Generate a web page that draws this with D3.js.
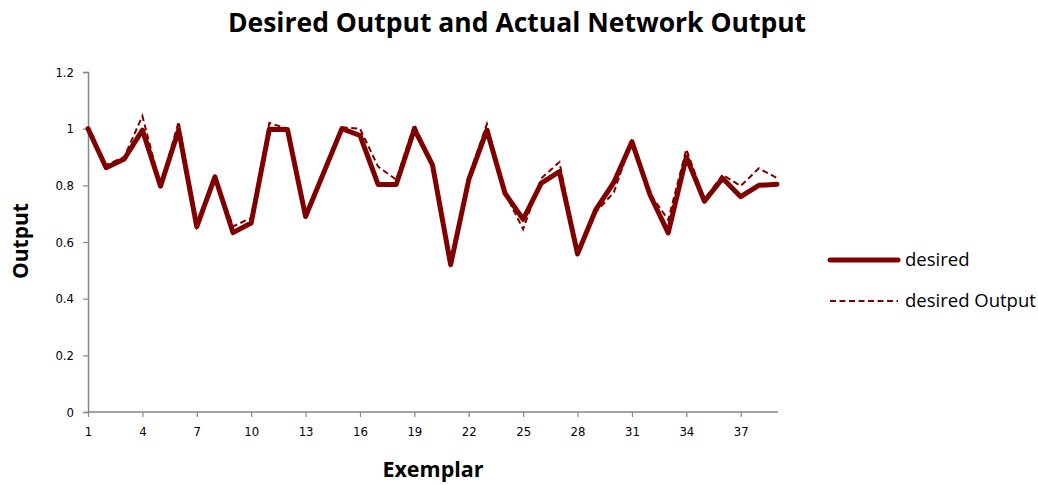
<!DOCTYPE html>
<html>
<head>
<meta charset="utf-8">
<script src="https://cdn.jsdelivr.net/npm/d3@7"></script>
<style>
  body { margin: 0; background: #fff; }
  svg { display: block; }
</style>
</head>
<body>
<svg id="chart"></svg>
<script>
// exemplar numbers 1..39
const exemplars = ["1","2","3","4","5","6","7","8","9","10","11","12","13","14","15","16","17","18","19","20",
                   "21","22","23","24","25","26","27","28","29","30","31","32","33","34","35","36","37","38","39"];

const desired = [1.0, 0.862, 0.893, 0.995, 0.797, 0.995, 0.654, 0.83, 0.633, 0.667,
                 0.998, 0.997, 0.69, 0.845, 1.0, 0.976, 0.803, 0.803, 0.998, 0.872,
                 0.52, 0.82, 0.995, 0.772, 0.68, 0.808, 0.848, 0.558, 0.713, 0.81,
                 0.954, 0.766, 0.632, 0.9, 0.744, 0.825, 0.76, 0.8, 0.804];

const networkOutput = [1.0, 0.872, 0.9, 1.045, 0.797, 1.025, 0.654, 0.83, 0.655, 0.685,
                       1.02, 1.0, 0.69, 0.845, 1.005, 1.0, 0.866, 0.82, 1.015, 0.872,
                       0.52, 0.83, 1.017, 0.772, 0.645, 0.825, 0.882, 0.558, 0.705, 0.775,
                       0.96, 0.77, 0.678, 0.927, 0.75, 0.837, 0.798, 0.86, 0.826];

const yTicks = [0, 0.2, 0.4, 0.6, 0.8, 1, 1.2];

const width = 1038, height = 485;
const margin = { top: 72, right: 261, bottom: 73, left: 88 };
const lineColor = "#800000";
const axisColor = "#868686";

const svg = d3.select("#chart")
              .attr("width", width)
              .attr("height", height);

const x = d3.scalePoint()
            .domain(exemplars)
            .range([margin.left, width - margin.right]);

const y = d3.scaleLinear()
            .domain([0, 1.2])
            .range([height - margin.bottom, margin.top]);

// Title
svg.append("text")
   .attr("x", 517)
   .attr("y", 32)
   .attr("text-anchor", "middle")
   .style("font-family", "'Open Sans', sans-serif")
   .style("font-weight", "bold")
   .style("font-size", "26.5px")
   .text("Desired Output and Actual Network Output");

// Y axis
const yAxis = svg.append("g")
   .attr("transform", `translate(${margin.left},0)`)
   .call(d3.axisLeft(y).tickValues(yTicks).tickSize(5).tickPadding(9)
           .tickFormat(d => d3.format("")(+d.toFixed(1))));

// X axis, label every 3rd exemplar
const xAxis = svg.append("g")
   .attr("transform", `translate(0,${height - margin.bottom})`)
   .call(d3.axisBottom(x).tickValues(exemplars.filter((d, i) => i % 3 === 0))
           .tickSize(5).tickPadding(10).tickSizeOuter(0));

[yAxis, xAxis].forEach(g => {
  g.select(".domain").attr("stroke", axisColor).attr("stroke-width", 1.5);
  g.selectAll(".tick line").attr("stroke", axisColor).attr("stroke-width", 1.2);
  g.selectAll(".tick text")
   .attr("fill", "#000")
   .style("font-family", "'DejaVu Sans Condensed', 'DejaVu Sans', sans-serif")
   .style("font-size", "13px");
});
// extend x axis line to the end of the plot area
xAxis.select(".domain").attr("d", `M${margin.left},0H${width - margin.right + 1}`);

// Axis titles
svg.append("text")
   .attr("transform", `translate(28,241) rotate(-90)`)
   .attr("text-anchor", "middle")
   .style("font-family", "'Open Sans', sans-serif")
   .style("font-weight", "bold")
   .style("font-size", "21px")
   .text("Output");

svg.append("text")
   .attr("x", 433)
   .attr("y", 477)
   .attr("text-anchor", "middle")
   .style("font-family", "'Open Sans', sans-serif")
   .style("font-weight", "bold")
   .style("font-size", "21.5px")
   .text("Exemplar");

// Lines
const line = d3.line()
               .x((d, i) => x(exemplars[i]))
               .y(d => y(d));

svg.append("path")
   .datum(desired)
   .attr("fill", "none")
   .attr("stroke", lineColor)
   .attr("stroke-width", 5)
   .attr("stroke-linejoin", "round")
   .attr("stroke-linecap", "round")
   .attr("d", line);

svg.append("path")
   .datum(networkOutput)
   .attr("fill", "none")
   .attr("stroke", lineColor)
   .attr("stroke-width", 2)
   .attr("stroke-dasharray", "6,3.5")
   .attr("d", line);

// Legend
const legend = svg.append("g");
const legendItems = [
  { name: "desired", width: 5, dash: null, y: 260 },
  { name: "desired Output", width: 2, dash: "6,3.5", y: 301 }
];

legendItems.forEach(item => {
  legend.append("line")
        .attr("x1", 830)
        .attr("x2", 898)
        .attr("y1", item.y)
        .attr("y2", item.y)
        .attr("stroke", lineColor)
        .attr("stroke-width", item.width)
        .attr("stroke-linecap", item.dash ? "butt" : "round")
        .attr("stroke-dasharray", item.dash);

  legend.append("text")
        .attr("x", 905)
        .attr("y", item.y + 6)
        .style("font-family", "'Open Sans', sans-serif")
        .style("font-size", "18.5px")
        .text(item.name);
});
</script>
</body>
</html>
